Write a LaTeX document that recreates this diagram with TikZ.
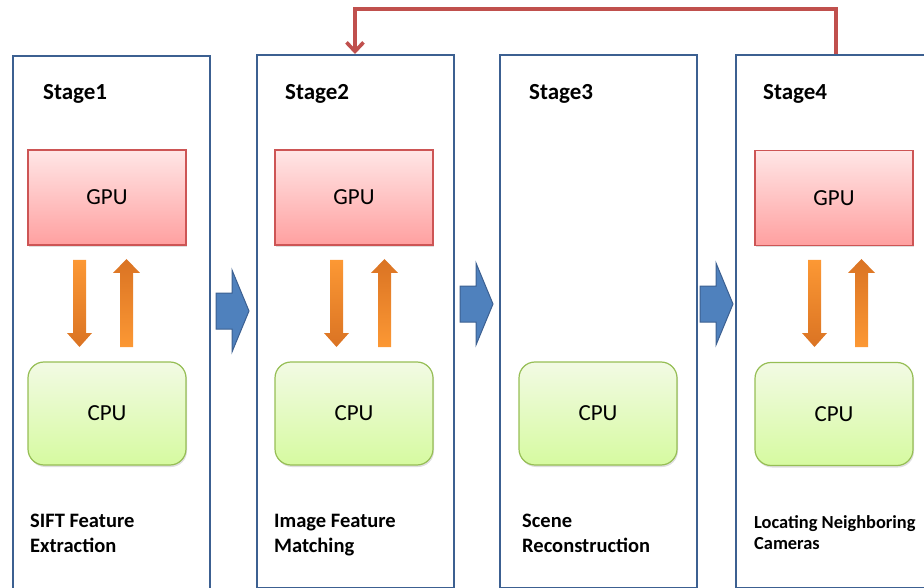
\documentclass[tikz,border=0pt]{standalone}
\usepackage{fontspec}
\setmainfont{Carlito}
\usetikzlibrary{arrows.meta}
\usetikzlibrary{shadows}
\definecolor{stageblue}{RGB}{60,96,145}
\definecolor{flowblue}{RGB}{79,129,189}
\definecolor{gpured}{RGB}{205,85,85}
\definecolor{gputop}{RGB}{255,230,230}
\definecolor{gpubottom}{RGB}{255,160,160}
\definecolor{cpugreen}{RGB}{150,190,85}
\definecolor{cputop}{RGB}{242,250,228}
\definecolor{cpubottom}{RGB}{214,250,160}
\definecolor{orangelight}{RGB}{252,152,52}
\definecolor{orangedark}{RGB}{218,115,35}
\definecolor{fbred}{RGB}{192,80,77}
\tikzset{
	stagebox/.style={
		rectangle,
		draw=stageblue, line width=2pt,
		anchor=north west,
		minimum width=197pt,
		minimum height=533pt,
		inner sep=0pt},
	gpubox/.style={
		rectangle,
		draw=gpured, line width=1.2pt,
		top color=gputop, bottom color=gpubottom,
		minimum width=158pt,
		minimum height=95pt,
		drop shadow={opacity=0.25, shadow xshift=1pt, shadow yshift=-2pt},
		font=\fontsize{23}{28}\selectfont},
	cpubox/.style={
		rectangle,
		rounded corners=16pt,
		draw=cpugreen, line width=1.2pt,
		top color=cputop, bottom color=cpubottom,
		minimum width=158pt,
		minimum height=103pt,
		drop shadow={opacity=0.25, shadow xshift=1pt, shadow yshift=-2pt},
		font=\fontsize{23}{28}\selectfont},
	stagelabel/.style={anchor=base west, inner sep=0pt, font=\bfseries\fontsize{23}{28}\selectfont},
	tasklabel/.style={anchor=north west, inner sep=0pt, align=left, font=\bfseries\fontsize{20.5}{25}\selectfont},
	downarrow/.style={top color=orangelight, bottom color=orangedark},
	uparrow/.style={top color=orangedark, bottom color=orangelight},
	flowarrow/.style={fill=flowblue, draw=stageblue, line width=1pt},
	feedback/.style={draw=fbred, line width=3.6pt, -{Straight Barb[length=9pt,width=17pt]}},
}

\begin{document}
\begin{tikzpicture}[x=1pt,y=-1pt]
	\useasboundingbox (0,0) rectangle (924,588);
	% stages
	\node[stagebox] (s1) at (12,55) {};
	\node[stagebox] (s2) at (256,54) {};
	\node[stagebox] (s3) at (499,54) {};
	\node[stagebox] (s4) at (735,54) {};
	
	\node[stagelabel] (l1) at (43,100) {Stage1};
	\node[stagelabel] (l2) at (285,100) {Stage2};
	\node[stagelabel] (l3) at (529,100) {Stage3};
	\node[stagelabel] (l4) at (763,100) {Stage4};
	
	\node[gpubox] (gpu1) at (107,197.5) {GPU};
	\node[gpubox] (gpu2) at (354,197.5) {GPU};
	\node[gpubox] (gpu4) at (834,198) {GPU};
	
	\node[cpubox] (cpu1) at (107,413.5) {CPU};
	\node[cpubox] (cpu2) at (354,413.5) {CPU};
	\node[cpubox] (cpu3) at (598,413.5) {CPU};
	\node[cpubox] (cpu4) at (834,414) {CPU};
	
	\node[tasklabel] (t1) at (30,514) {SIFT Feature\\Extraction};
	\node[tasklabel] (t2) at (274,514) {Image Feature\\Matching};
	\node[tasklabel] (t3) at (522,514) {Scene\\Reconstruction};
	\node[tasklabel, font=\bfseries\fontsize{18.4}{21}\selectfont] (t4) at (754,515) {Locating Neighboring\\Cameras};
	
	% GPU <-> CPU transfers
	\foreach \a/\b in {73/120, 330/378, 808/855} {
		\shade[downarrow] (\a,260) -- (\a+13,260) -- (\a+13,333) -- (\a+19,333) -- (\a+6.5,347) -- (\a-6,333) -- (\a,333) -- cycle;
		\shade[uparrow] (\b,347) -- (\b,273) -- (\b-7,273) -- (\b+6.5,259) -- (\b+20,273) -- (\b+13,273) -- (\b+13,347) -- cycle;
	}
	
	% stage to stage
	\foreach \x/\y in {216/311, 460/304, 700/304} {
		\filldraw[flowarrow] (\x,\y-18) -- (\x+16,\y-18) -- (\x+16,\y-41) -- (\x+33,\y) -- (\x+16,\y+41) -- (\x+16,\y+18) -- (\x,\y+18) -- cycle;
	}
	
	% back to matching
	\draw[feedback] ([xshift=101pt]s4.north west) |- ([xshift=99pt,yshift=45pt]s2.north west) -- ([xshift=99pt]s2.north west);
\end{tikzpicture}
\end{document}
